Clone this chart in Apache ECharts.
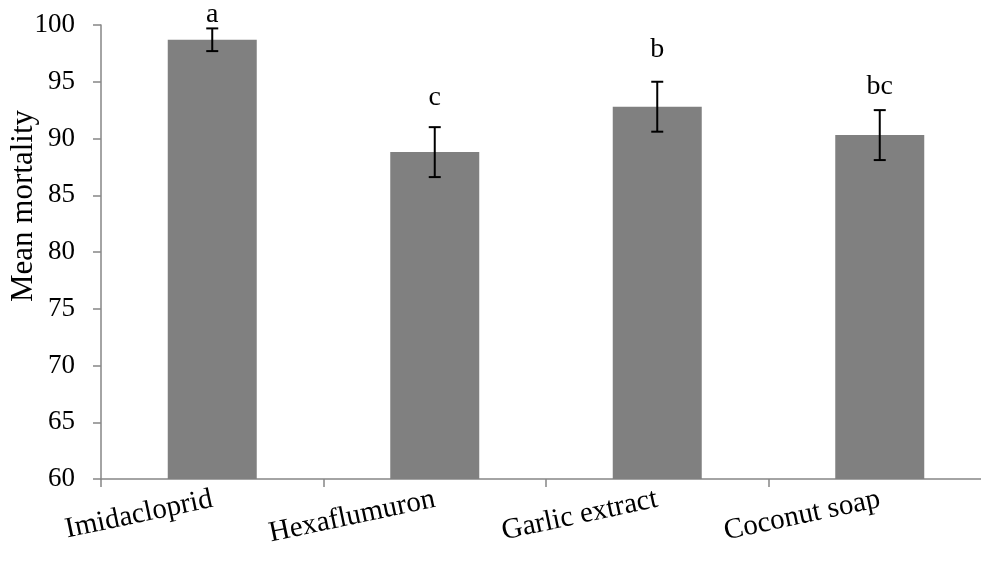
<!DOCTYPE html>
<html>
<head>
<meta charset="utf-8">
<script src="https://cdn.jsdelivr.net/npm/echarts@6/dist/echarts.min.js"></script>
<style>
html, body { margin: 0; padding: 0; background: #fff; }
#chart { width: 981px; height: 564px; }
</style>
</head>
<body>
<div id="chart"></div>
<script>
// data
const categories = ["Imidacloprid", "Hexaflumuron", "Garlic extract", "Coconut soap"];
const meanMortality = [98.7, 88.8, 92.8, 90.3];
const stdError = [1.0, 2.2, 2.2, 2.2];
const letters = ["a", "c", "b", "bc"];
const letterY = [100.9, 93.6, 97.8, 94.6]; // where the letters sit, in axis units

const font = "'Liberation Serif', 'Times New Roman', serif";
const axisGray = "#868686";

let chart = echarts.init(document.getElementById("chart"));

let errData = meanMortality.map((m, i) => [i, m + stdError[i], m - stdError[i], letterY[i]]);

let option = {
    animation: false,
    grid: {
        left: 101,
        top: 25,
        width: 890,
        height: 454,
        outerBoundsMode: "none",
    },
    xAxis: {
        type: "category",
        data: categories,
        axisLine: { lineStyle: { color: axisGray, width: 1.5 } },
        axisTick: { show: true, length: 8, lineStyle: { color: axisGray, width: 1.5 } },
        axisLabel: {
            rotate: 12,
            margin: 20,
            color: "#000",
            fontFamily: font,
            fontSize: 29,
            interval: 0,
        },
    },
    yAxis: {
        type: "value",
        min: 60,
        max: 100,
        interval: 5,
        name: "Mean mortality",
        nameLocation: "middle",
        nameGap: 62,
        nameMoveOverlap: false,
        nameTextStyle: {
            color: "#000",
            fontFamily: font,
            fontSize: 31,
            padding: [0, 0, 0, 92],
        },
        splitLine: { show: false },
        axisLine: { show: true, lineStyle: { color: axisGray, width: 1.5 } },
        axisTick: { show: true, length: 8, lineStyle: { color: axisGray, width: 1.5 } },
        axisLabel: {
            margin: 26,
            color: "#000",
            fontFamily: font,
            fontSize: 27,
        },
    },
    series: [
        {
            type: "bar",
            data: meanMortality,
            barWidth: "40%",
            itemStyle: { color: "#808080" },
        },
        {
            type: "custom",
            data: errData,
            clip: false,
            z: 5,
            renderItem: (params, api) => {
                let hi = api.coord([api.value(0), api.value(1)]);
                let lo = api.coord([api.value(0), api.value(2)]);
                let lab = api.coord([api.value(0), api.value(3)]);
                let cap = 6;
                let st = { stroke: "#000", lineWidth: 2 };
                return {
                    type: "group",
                    children: [
                        { type: "line", shape: { x1: hi[0], y1: hi[1], x2: lo[0], y2: lo[1] }, style: st },
                        { type: "line", shape: { x1: hi[0] - cap, y1: hi[1], x2: hi[0] + cap, y2: hi[1] }, style: st },
                        { type: "line", shape: { x1: lo[0] - cap, y1: lo[1], x2: lo[0] + cap, y2: lo[1] }, style: st },
                        {
                            type: "text",
                            x: lab[0],
                            y: lab[1],
                            style: {
                                text: letters[params.dataIndex],
                                fill: "#000",
                                font: "28px " + font,
                                align: "center",
                                verticalAlign: "middle",
                            },
                        },
                    ],
                };
            },
        },
    ],
};
chart.setOption(option);
</script>
</body>
</html>
